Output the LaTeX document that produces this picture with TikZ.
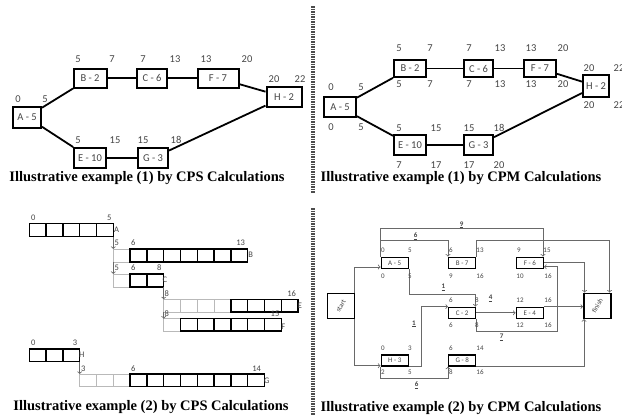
\documentclass[tikz,border=0pt]{standalone}
\usepackage{graphicx}
\usepackage{fontspec}
\setmainfont{Liberation Serif}
\newfontfamily\calibri{Carlito}
\usetikzlibrary{arrows, positioning, calc}
\definecolor{textgray}{RGB}{70,70,70}
\definecolor{linkgray}{RGB}{105,105,105}
\definecolor{sparegray}{RGB}{185,185,185}

\begin{document}
\begin{tikzpicture}[x=1pt, y=-1pt,
    task/.style={rectangle, draw=black, line width=2pt, fill=white, minimum height=19pt, inner sep=1pt, font=\calibri\fontsize{10.5}{10.5}\selectfont, text=textgray},
    num/.style={inner sep=0pt, font=\calibri\fontsize{10.5}{10.5}\selectfont, text=textgray},
    link/.style={line width=1.8pt, black},
    caption/.style={inner sep=0pt, font=\bfseries\fontsize{14.5}{14.5}\selectfont},
    cell/.style={draw=black, line width=1.5pt},
    spare/.style={draw=sparegray, line width=0.8pt},
    barnum/.style={inner sep=0pt, font=\calibri\fontsize{8.5}{8.5}\selectfont, text=textgray},
    netnum/.style={inner sep=0pt, font=\calibri\fontsize{7}{7}\selectfont, text=textgray},
    act/.style={rectangle, draw=black, line width=1.4pt, fill=white, minimum width=27pt, minimum height=11pt, inner sep=0pt, font=\calibri\fontsize{7}{7}\selectfont, text=textgray},
    endbox/.style={rectangle, draw=black, line width=1.5pt, minimum width=27pt, minimum height=25pt, inner sep=0pt, font=\calibri\fontsize{7}{7}\selectfont, text=textgray},
    flow/.style={->, linkgray, line width=0.8pt},
    dep/.style={->, linkgray, line width=0.8pt},
    divider/.style={line width=3.5pt, dash pattern=on 1.5pt off 1pt, gray!60!black}
]
    \fill[white] (0,0) rectangle (622,415);
    \useasboundingbox (0,0) rectangle (622,415);

    \draw[divider] (313,6) -- (313,193);
    \draw[divider] (313,208) -- (313,415);

    % example (1), CPS
    \node[task, minimum width=28pt, minimum height=21pt] (a1) at (27,117) {A - 5};
    \node[task, minimum width=33pt] (b1) at (90,78) {B - 2};
    \node[task, minimum width=30pt] (c1) at (152,78) {C - 6};
    \node[task, minimum width=41pt] (f1) at (218,78) {F - 7};
    \node[task, minimum width=35pt, minimum height=20pt] (h1) at (284,97) {H - 2};
    \node[task, minimum width=32pt, minimum height=20pt] (e1) at (90,158) {E - 10};
    \node[task, minimum width=30pt, minimum height=20pt] (g1) at (153,158) {G - 3};

    \draw[link] (a1) -- (b1);
    \draw[link] (b1) -- (c1);
    \draw[link] (c1) -- (f1);
    \draw[link] (f1) -- (h1);
    \draw[link] (a1) -- (e1);
    \draw[link] (e1) -- (g1);
    \draw[link] (g1) -- (h1);

    \foreach \x/\y/\t [count=\i] in {18/99/0, 45/99/5, 78/59/5, 112/59/7, 143/59/7, 175/59/13, 206/59/13, 247/59/20, 274/79/20, 300/79/22, 78/140/5, 115/140/15, 143/140/15, 176/140/18}
        \node[num] (p\i) at (\x,\y) {\t};

    \node[caption] (cap1) at (147,178) {Illustrative example (1) by CPS Calculations};

    % example (1), CPM
    \node[task, minimum width=32pt, minimum height=20pt] (a2) at (340,107) {A - 5};
    \node[task, minimum width=32pt, minimum height=17pt] (b2) at (410,68.5) {B - 2};
    \node[task, minimum width=29pt, minimum height=17pt] (c2) at (478.5,68.5) {C - 6};
    \node[task, minimum width=32pt, minimum height=17pt] (f2) at (540,68.5) {F - 7};
    \node[task, minimum width=26pt, minimum height=22pt] (h2) at (596,86) {H - 2};
    \node[task, minimum width=32pt, minimum height=20pt] (e2) at (410,145) {E - 10};
    \node[task, minimum width=29pt, minimum height=20pt] (g2) at (478.5,145) {G - 3};

    \draw[link] (a2) -- (b2);
    \draw[link] (b2) -- (c2);
    \draw[link] (c2) -- (f2);
    \draw[link] (f2) -- (h2);
    \draw[link] (a2) -- (e2);
    \draw[link] (e2) -- (g2);
    \draw[link] (g2) -- (h2);

    \foreach \x/\y/\t [count=\i] in {331/87/0, 361/87/5, 331/127/0, 361/127/5, 399/48/5, 430/48/7, 399/84/5, 430/84/7, 469/48/7, 500/48/13, 469/84/7, 500/84/13, 531/48/13, 563/48/20, 531/84/13, 563/84/20, 589/68/20, 619/68/22, 589/105/20, 619/105/22, 399/128/5, 436/128/15, 399/165/7, 436/165/17, 469/128/15, 499/128/18, 469/165/17, 499/165/20}
        \node[num] (q\i) at (\x,\y) {\t};

    \node[caption] (cap2) at (461,178) {Illustrative example (1) by CPM Calculations};

    % example (2), CPS
    \foreach \i in {0,...,4} \draw[cell] (29.3+16.8*\i,223.5) rectangle ++(16.8,13);
    \draw[spare] (113.3,249) rectangle ++(16.8,13);
    \foreach \i in {1,...,7} \draw[cell] (113.3+16.8*\i,249) rectangle ++(16.8,13);
    \draw[spare] (113.3,274) rectangle ++(16.8,13);
    \foreach \i in {1,2} \draw[cell] (113.3+16.8*\i,274) rectangle ++(16.8,13);
    \foreach \i in {0,...,3} \draw[spare] (163.7+16.8*\i,299.3) rectangle ++(16.8,12.7);
    \foreach \i in {4,...,7} \draw[cell] (163.7+16.8*\i,299.3) rectangle ++(16.8,12.7);
    \draw[spare] (163.7,318.7) rectangle ++(16.8,12.3);
    \foreach \i in {1,...,6} \draw[cell] (163.7+16.8*\i,318.7) rectangle ++(16.8,12.3);
    \foreach \i in {0,1,2} \draw[cell] (29.3+16.8*\i,349) rectangle ++(16.8,12.7);
    \foreach \i in {0,1,2} \draw[spare] (79.7+16.8*\i,374) rectangle ++(16.8,12.3);
    \foreach \i in {3,...,10} \draw[cell] (79.7+16.8*\i,374) rectangle ++(16.8,12.3);

    \coordinate (aend) at (113.3,236.5);
    \coordinate (bstart) at (113.3,249);
    \coordinate (bfoot) at (113.3,262);
    \coordinate (cstart) at (113.3,274);
    \coordinate (cend) at (163.7,287);
    \coordinate (estart) at (163.7,299.3);
    \coordinate (efoot) at (163.7,312);
    \coordinate (fstart) at (163.7,318.7);
    \coordinate (hend) at (79.7,361.7);
    \coordinate (gstart) at (79.7,374);

    \draw[dep] (aend) -- (bstart);
    \draw[dep] (bfoot) -- (cstart);
    \draw[dep] (cend) -- (estart);
    \draw[dep] (efoot) -- (fstart);
    \draw[dep] (hend) -- (gstart);

    \foreach \x/\y/\t [count=\i] in {33.3/218/0, 109.3/218/5, 116.7/243/5, 133.3/243/6, 240.7/243/13, 116.7/268/5, 133.3/268/6, 159.3/268/8, 166.7/294/8, 291.7/294/16, 166.7/313.5/8, 275/313.5/15, 33.3/343/0, 75/343/3, 83.3/368.5/3, 133.3/368.5/6, 256.7/368.5/14, 116.7/230/A, 250.7/255/B, 165/280/C, 300/306/E, 283.3/327/F, 81.7/355/H, 266.7/380.5/G}
        \node[barnum] (r\i) at (\x,\y) {\t};

    \node[caption] (cap3) at (151,407) {Illustrative example (2) by CPS Calculations};

    % example (2), CPM
    \node[endbox] (start) at (341,305.8) {\rotatebox{60}{start}};
    \node[endbox] (finish) at (597.3,305.8) {\rotatebox{60}{finish}};

    \node[act] (a3) at (394.7,262.8) {A - 5};
    \node[act] (b3) at (462.2,262.8) {B - 7};
    \node[act] (f3) at (529.8,262.8) {F - 6};
    \node[act] (c3) at (462.2,312.8) {C - 2};
    \node[act] (e3) at (529.8,312.8) {E - 4};
    \node[act] (h3) at (394.7,360.5) {H - 3};
    \node[act] (g3) at (462.2,360.5) {G - 8};

    \draw[flow] ([xshift=-1pt]start.north east) |- ([yshift=2pt]a3.south west);
    \draw[flow] ([xshift=-1pt]start.south east) |- ([yshift=1pt]h3.south west);
    \draw[flow] (a3.north west) -- ++(0,-28) -| ([xshift=-1pt]f3.north east);
    \draw[flow] (a3.north west) -- ++(0,-16) -| (b3.north west);
    \draw[flow] (b3.north east) -- ++(0,-16) -| ([xshift=-2pt]finish.north east);
    \draw[flow] (f3.east) -| ([xshift=1.5pt]finish.north west);
    \draw[flow] (a3.south east) -- ++(0,25.5) -| ([xshift=-1pt]c3.north east);
    \draw[flow] (c3.east) -- (e3.west);
    \draw[flow] (c3.south east) -- ++(0,12.5) -- ++(80.7,0) |- ([yshift=-4pt]f3.east);
    \draw[flow] (e3.north east) -- (e3.north east -| finish.west);
    \draw[flow] (g3.south east) -| ([xshift=1pt]finish.south west);
    \draw[flow] (h3.south east) -- ++(12,0) |- (c3.north west);
    \draw[flow] (h3.south west) -- ++(0,12) -| (g3.south west);

    \foreach \x/\y/\t [count=\i] in {383/250/0, 410/250/5, 383/276/0, 410/276/5, 451/250/6, 480/250/13, 451/276/9, 480/276/16, 519/250/9, 547/250/15, 520/276/10, 548/276/16, 451/300/6, 477/300/8, 451/325/6, 477/325/8, 520/300/12, 548/300/16, 520/325/12, 548/325/16, 383/348/0, 410/348/3, 383/372/2, 410/372/5, 451/348/6, 480/348/14, 451/372/8, 480/372/16}
        \node[netnum] (s\i) at (\x,\y) {\t};

    \foreach \x/\y/\t [count=\i] in {461.7/225/9, 415.7/236/6, 443.3/287.3/1, 490.7/298.3/4, 414/324/1, 501.7/337.3/7, 416.7/385/6}
        \node[netnum, font=\calibri\bfseries\fontsize{7}{7}\selectfont] (lag\i) at (\x,\y) {\underline{\t}};

    \node[caption] (cap4) at (461,408) {Illustrative example (2) by CPM Calculations};
\end{tikzpicture}
\end{document}
